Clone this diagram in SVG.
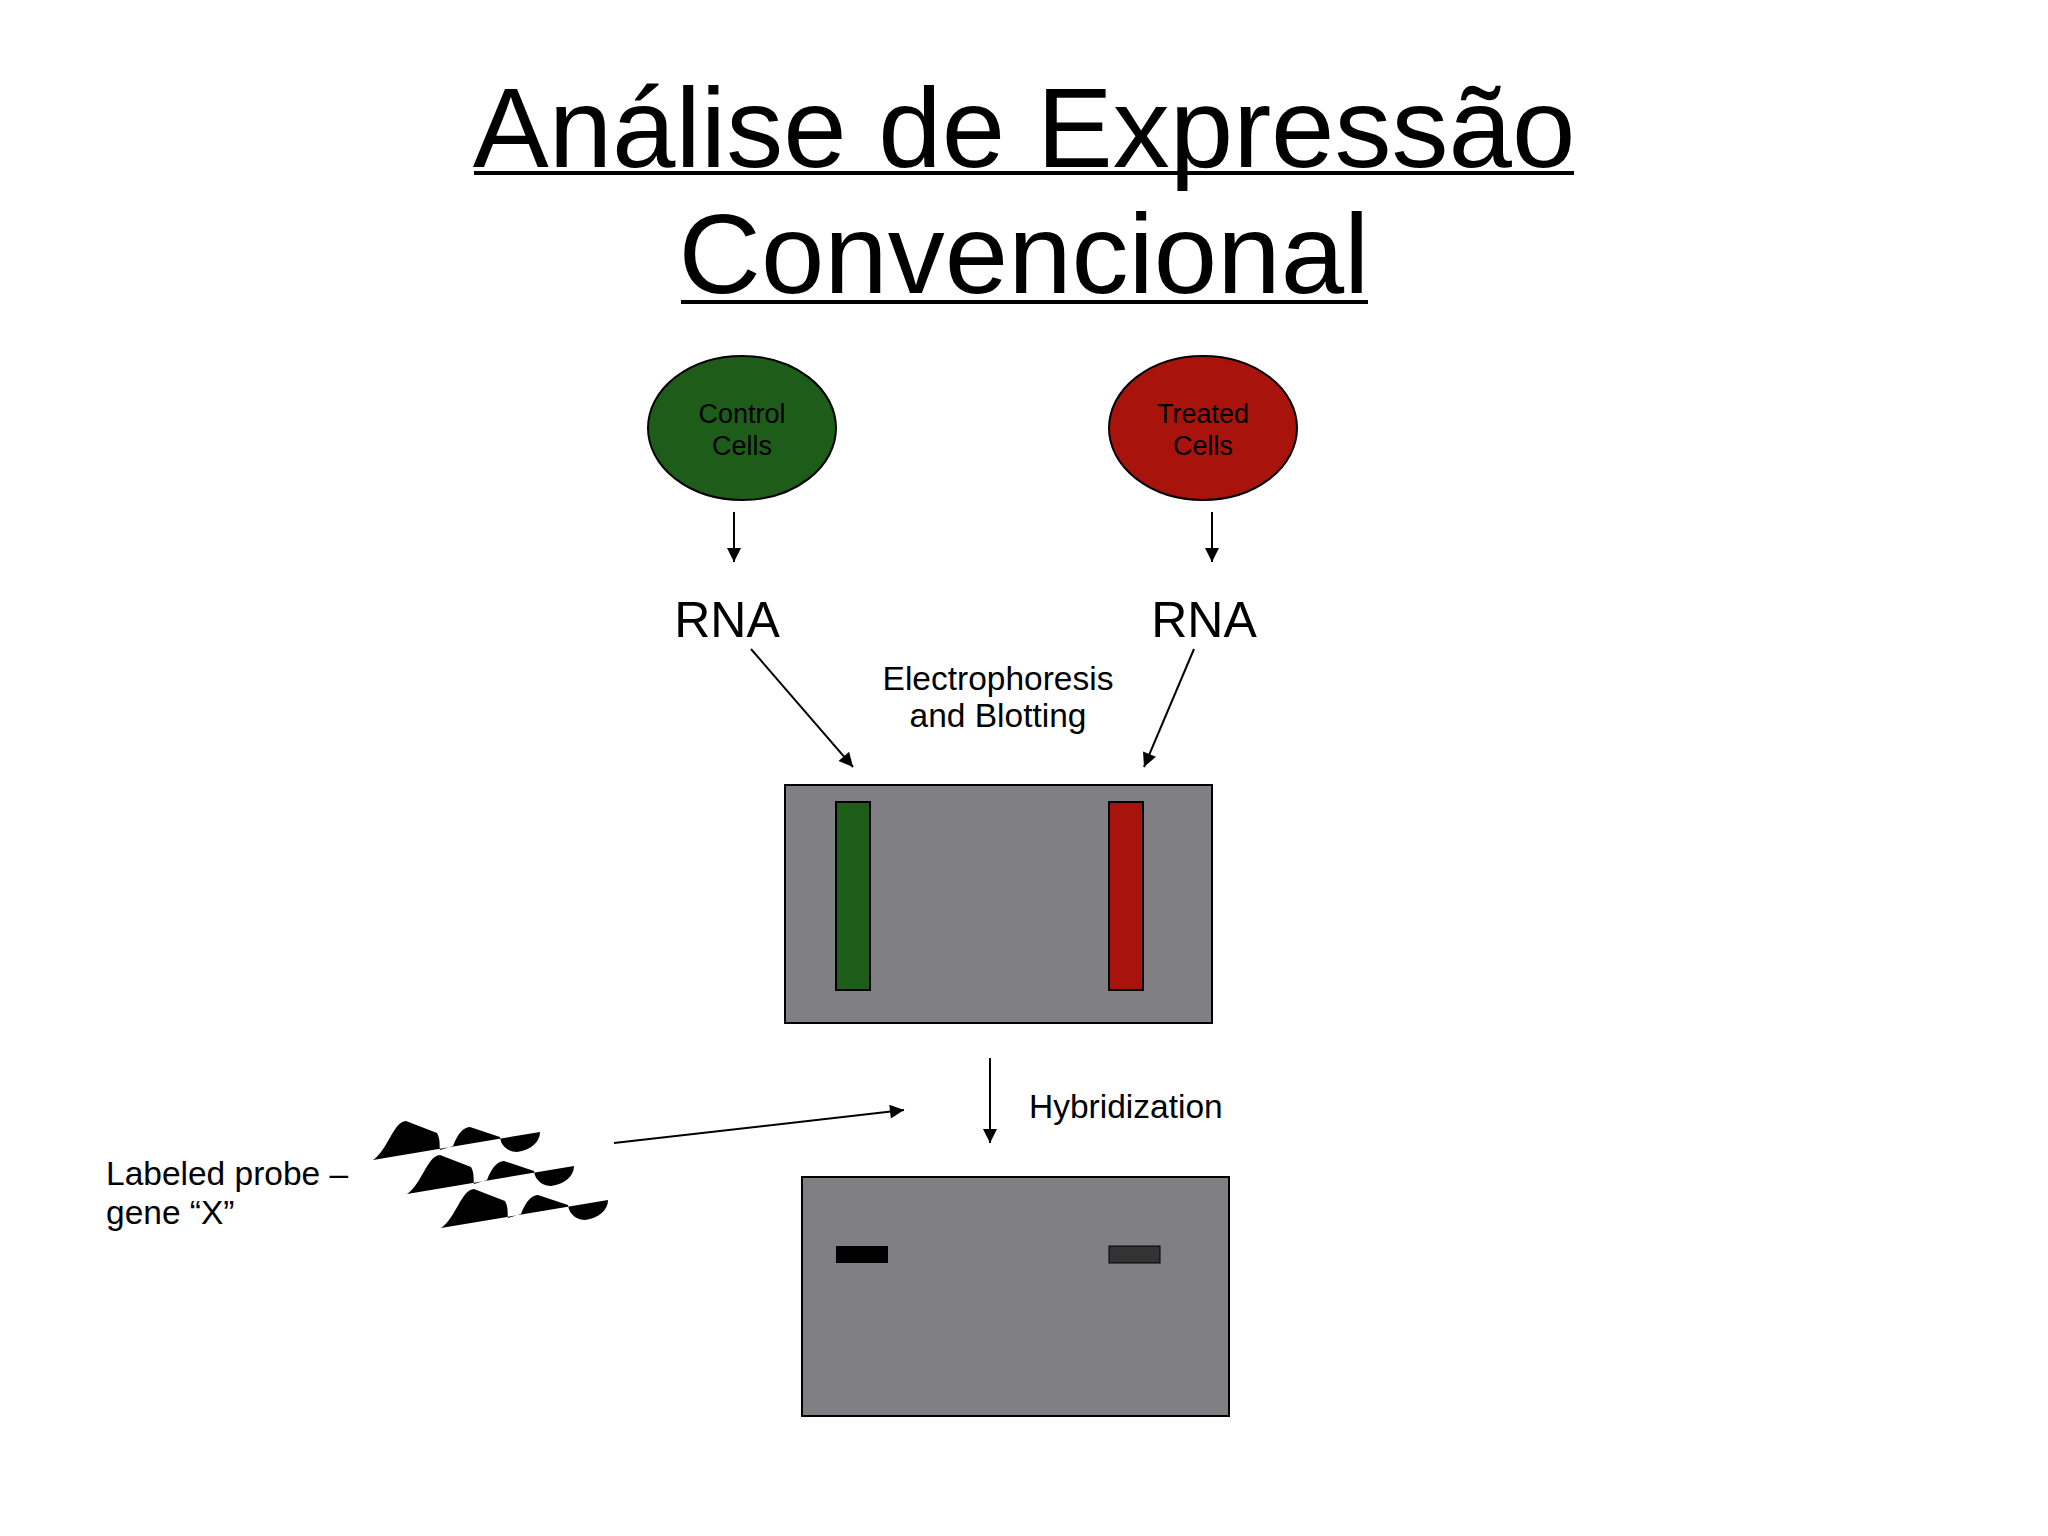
<svg xmlns="http://www.w3.org/2000/svg" width="2048" height="1536" viewBox="0 0 2048 1536">
<style>
text{font-family:"Liberation Sans",Arial,sans-serif;fill:#000}
.t{font-size:114px;text-anchor:middle}
.c{font-size:27px;text-anchor:middle}
.r{font-size:50px;text-anchor:middle}
.l{font-size:33.5px}
.a{stroke:#000;stroke-width:2;fill:none}
.gel{fill:#807f83;stroke:#000;stroke-width:2}
</style>
<defs>
<marker id="ah2" viewBox="0 0 10 10" refX="10" refY="5" markerWidth="16" markerHeight="14" markerUnits="userSpaceOnUse" orient="auto"><path d="M0,0 L10,5 L0,10 Z" fill="#000"/></marker>
<path id="probe" d="M0,0 C15,-10 20,-38 33,-39 L64,-27 C68,-20 66,-12 67,-10 L80,-14 C85,-28 92,-33 97,-33 L127,-23 C128,-12 138,-8 144,-8 C158,-10 167,-18 167,-28 Z" fill="#000"/>
</defs>
<g id="title">
<text class="t" x="1024" y="167">Análise de Expressão</text>
<line x1="474" y1="173" x2="1574" y2="173" stroke="#000" stroke-width="4"/>
<text class="t" x="1024" y="293">Convencional</text>
<line x1="681" y1="302" x2="1368" y2="302" stroke="#000" stroke-width="4"/>
</g>
<g id="control">
<ellipse cx="742" cy="428" rx="94" ry="72" fill="#1e5c1a" stroke="#000" stroke-width="2"/>
<text class="c" x="742" y="423">Control</text>
<text class="c" x="742" y="455">Cells</text>
</g>
<g id="treated">
<ellipse cx="1203" cy="428" rx="94" ry="72" fill="#a8140c" stroke="#000" stroke-width="2"/>
<text class="c" x="1203" y="423">Treated</text>
<text class="c" x="1203" y="455">Cells</text>
</g>
<g id="rna1"><text class="r" x="727" y="637">RNA</text></g>
<g id="rna2"><text class="r" x="1204" y="637">RNA</text></g>
<g id="label-electro">
<text class="l" x="998" y="690" text-anchor="middle">Electrophoresis</text>
<text class="l" x="998" y="727" text-anchor="middle">and Blotting</text>
</g>
<g id="gel1">
<rect class="gel" x="785" y="785" width="427" height="238"/>
<rect x="836" y="802" width="34" height="188" fill="#1e5c1a" stroke="#000" stroke-width="2"/>
<rect x="1109" y="802" width="34" height="188" fill="#a8140c" stroke="#000" stroke-width="2"/>
</g>
<g id="label-hyb"><text class="l" x="1029" y="1118">Hybridization</text></g>
<g id="probe-group">
<text class="l" x="106" y="1185">Labeled probe –</text>
<text class="l" x="106" y="1224">gene “X”</text>
<use href="#probe" x="373" y="1160"/>
<use href="#probe" x="407" y="1194"/>
<use href="#probe" x="441" y="1228"/>
</g>
<g id="gel2">
<rect class="gel" x="802" y="1177" width="427" height="239"/>
<rect x="836" y="1246" width="52" height="17" fill="#000"/>
<rect x="1109" y="1246" width="51" height="17" fill="#333" stroke="#000" stroke-width="1"/>
</g>
<g id="connectors">
<line class="a" x1="734" y1="512" x2="734" y2="562" marker-end="url(#ah2)"/>
<line class="a" x1="1212" y1="512" x2="1212" y2="562" marker-end="url(#ah2)"/>
<line class="a" x1="751" y1="649" x2="853" y2="767" marker-end="url(#ah2)"/>
<line class="a" x1="1194" y1="649" x2="1144" y2="767" marker-end="url(#ah2)"/>
<line class="a" x1="990" y1="1058" x2="990" y2="1143" marker-end="url(#ah2)"/>
<line class="a" x1="614" y1="1143" x2="904" y2="1110" marker-end="url(#ah2)"/>
</g>
</svg>
